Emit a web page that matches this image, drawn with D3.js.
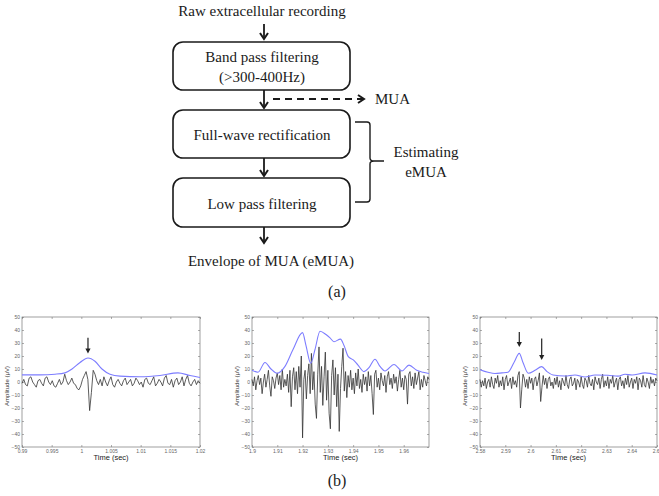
<!DOCTYPE html>
<html>
<head>
<meta charset="utf-8">
<script src="https://cdn.jsdelivr.net/npm/d3@7"></script>
<style>
  body { margin: 0; background: #fff; }
  svg { display: block; }
</style>
</head>
<body>
<script>
// ---- flowchart text ----
var topLabel = "Raw extracellular recording";
var stepLines = [
  ["Band pass filtering", "(>300-400Hz)"],
  ["Full-wave rectification"],
  ["Low pass filtering"]
];
var bottomLabel = "Envelope of MUA (eMUA)";
var sideLabel = "MUA";
var braceLines = ["Estimating", "eMUA"];

// ---- signal panels ----
var yTicks = [-50, -40, -30, -20, -10, 0, 10, 20, 30, 40, 50];

var p1Ticks = [0.99, 0.995, 1, 1.005, 1.01, 1.015, 1.02];
var p1Labels = ["0.99", "0.995", "1", "1.005", "1.01", "1.015", "1.02"];
var p2Ticks = [1.9, 1.91, 1.92, 1.93, 1.94, 1.95, 1.96];
var p2Labels = ["1.9", "1.91", "1.92", "1.93", "1.94", "1.95", "1.96"];
var p3Ticks = [2.58, 2.59, 2.6, 2.61, 2.62, 2.63, 2.64, 2.65];
var p3Labels = ["2.58", "2.59", "2.6", "2.61", "2.62", "2.63", "2.64", "2.65"];

// raw traces: start time, sample step, amplitudes (uV)
var raw1Start = 0.99, raw1Step = 0.0003;
var raw1 = [-1, 2, -2, -3, 3, 4, 0, -2, -4, 1,
  2, -1, -3, 3, 4, 0, -2, 1, -3, -4,
  -1, 2, -2, 0, 6, 1, -2, 0, 3, -1,
  -2, -5, -6, -3, 2, 5, 8, 2, -22, -8,
  9, 6, 1, -2, 2, -3, 4, 0, -3, 1,
  4, -2, -4, 0, 2, -1, -3, 1, 3, -2,
  0, 2, -3, -1, 3, 1, -2, 0, -4, 2,
  3, -1, -2, 1, 4, -3, -1, 2, 0, -3,
  3, 5, -1, -2, 2, -4, 1, 3, -2, 0,
  4, -3, 2, 5, -1, -3, 0, 2, -2, 1, -1];

var raw2Start = 1.9, raw2Step = 0.0005;
var raw2 = [2, -3, 4, -6, 1, 5, -2, 3, -9, 0,
  6, -4, 2, 9, -3, -11, 4, 1, -5, 3,
  7, -2, 5, -6, 10, -4, 2, -3, 6, -8,
  9, -19, 4, 11, -6, 8, -9, 12, -4, 20,
  -43, 2, 9, -13, 5, 14, -9, 22, -6, 8,
  -17, -28, 6, 27, -8, 12, -18, 4, 23, -14,
  9, -24, -36, 5, 17, -10, 11, -19, 6, -38,
  -5, 12, 26, -7, 8, -12, 5, -4, 9, -6,
  3, -9, 7, -3, 10, -5, 2, -8, 6, -2,
  4, -7, 8, -3, 5, -9, -25, 6, 9, -4,
  3, -6, 7, 1, -3, 5, -8, 4, 8, -2,
  3, -5, 6, -1, 4, -7, 2, 9, -4, 3,
  -6, 5, 2, -17, 6, 8, -3, 4, -5, 7,
  -2, 3, 8, -6, 2, -4, 5, 1, -3, 4, 2];

var raw3Start = 2.58, raw3Step = 0.0005;
var raw3 = [2, -4, 1, -3, 3, -5, 0, 2, -4, 4,
  -2, -5, 3, -1, 5, -4, 1, -3, 4, -6,
  2, 5, -3, 0, 3, -5, 4, -2, 1, -4,
  5, 8, -20, -6, 6, 3, -4, 2, -5, 4,
  -1, 3, -6, 2, 4, -3, 1, 7, -15, -4,
  5, -2, 3, -5, 2, 4, -3, 0, -5, 3,
  -2, 4, -4, 1, -6, 3, 0, -3, 5, -2,
  -5, 2, 4, -3, -1, 3, -6, 2, 0, -4,
  4, -2, -5, 3, 1, -4, 5, -1, -3, 2,
  -6, 4, 0, -2, 3, -5, 2, 6, -4, 1,
  -3, 4, -5, 2, -1, 5, -4, 0, 3, -6,
  2, 4, -3, 1, -5, 3, -2, 5, -4, 0,
  3, -5, 2, -1, 4, -6, 3, 1, -4, 5,
  -2, -4, 3, 0, -5, 4, -1, 2, -3, 3, 1];

// envelopes (eMUA)
var env1T = [0.99, 0.99303, 0.99556, 0.99725, 0.99843, 0.99978, 1.00112, 1.0023, 1.00348,
  1.00483, 1.00652, 1.00989, 1.01326, 1.01629, 1.01831, 1.02];
var env1V = [5.5, 5.5, 6, 7, 10, 15, 18.5, 16, 10, 6, 4.5, 4, 5, 7, 5, 3.5];

var env2T = [1.9, 1.90237, 1.90514, 1.90751, 1.90989, 1.91305, 1.91622, 1.91997, 1.92136,
  1.92322, 1.92492, 1.92689, 1.92927, 1.93085, 1.93243, 1.935, 1.93639, 1.93809, 1.94006,
  1.94192, 1.9443, 1.94627, 1.94865, 1.95062, 1.9526, 1.95616, 1.95932, 1.96209, 1.96514,
  1.96763, 1.97];
var env2V = [9, 7.5, 15, 10, 6.7, 12, 25, 38, 28, 14.4, 25, 39, 36.5, 34, 31, 33, 28, 19.5,
  17, 13, 8, 11, 17.5, 12, 8.5, 13.5, 8.5, 13, 9, 7.5, 6.5];

var env3T = [2.58, 2.58316, 2.58593, 2.5887, 2.59107, 2.59344, 2.59554, 2.597, 2.5991,
  2.60175, 2.6044, 2.6065, 2.60887, 2.61362, 2.61757, 2.62153, 2.62548, 2.63062, 2.63458,
  2.63735, 2.64012, 2.64526, 2.65];
var env3V = [9.5, 7.5, 6.5, 7, 7.5, 15, 22, 15, 6.7, 9, 11.8, 8, 5.4, 4.6, 5.4, 3.8, 5.4,
  5.2, 4.5, 6, 5.4, 7, 5.4];

// spike markers: time, top and tip amplitude
var arrows1 = [[1.00112, 34, 22]];
var arrows2 = [];
var arrows3 = [[2.59554, 38.5, 27], [2.6044, 33.5, 17]];

var W = 659, H = 496;
var svg = d3.select("body").append("svg").attr("width", W).attr("height", H);

var serif = "'Liberation Serif', 'Times New Roman', serif";
var sans = "'Liberation Sans', Arial, sans-serif";
var ink = "#1a1a1a";

// ---------- (a) flowchart ----------
var fc = svg.append("g");
var cx = 262;
var boxes = [{ y: 42, h: 48 }, { y: 110, h: 48 }, { y: 178, h: 49 }];
var boxLeft = 173, boxW = 177;

fc.append("text").attr("x", cx).attr("y", 16).attr("text-anchor", "middle")
  .style("font-family", serif).style("font-size", "15px").attr("fill", ink)
  .text(topLabel);

boxes.forEach(function(b, i) {
  fc.append("rect")
    .attr("x", boxLeft).attr("y", b.y).attr("width", boxW).attr("height", b.h)
    .attr("rx", 10).attr("ry", 10)
    .attr("fill", "none").attr("stroke", ink).attr("stroke-width", 1.6);
  var lines = stepLines[i];
  var mid = b.y + b.h / 2;
  lines.forEach(function(l, j) {
    fc.append("text")
      .attr("x", cx).attr("y", mid + 6 + (j - (lines.length - 1) / 2) * 20)
      .attr("text-anchor", "middle")
      .style("font-family", serif).style("font-size", "15px").attr("fill", ink)
      .text(l);
  });
});

fc.append("text").attr("x", cx + 9).attr("y", 266).attr("text-anchor", "middle")
  .style("font-family", serif).style("font-size", "15px").attr("fill", ink)
  .text(bottomLabel);

// down arrows
function downArrow(x, y0, y1) {
  fc.append("line").attr("x1", x).attr("x2", x).attr("y1", y0).attr("y2", y1)
    .attr("stroke", ink).attr("stroke-width", 1.8);
  fc.append("path").attr("d", "M" + (x - 4) + "," + (y1 - 6) + "L" + x + "," + y1 + "L" + (x + 4) + "," + (y1 - 6))
    .attr("fill", "none").attr("stroke", ink).attr("stroke-width", 2);
}
downArrow(264, 24, 39);
downArrow(264, 90, 108);
downArrow(264, 158, 176);
downArrow(264, 227, 243);

// dashed arrow to MUA
fc.append("line").attr("x1", 273).attr("x2", 363).attr("y1", 99).attr("y2", 99)
  .attr("stroke", ink).attr("stroke-width", 2).attr("stroke-dasharray", "7,5");
fc.append("path").attr("d", "M358,95L364,99L358,103")
  .attr("fill", "none").attr("stroke", ink).attr("stroke-width", 2);
fc.append("text").attr("x", 375).attr("y", 104)
  .style("font-family", serif).style("font-size", "15px").attr("fill", ink)
  .text(sideLabel);

// brace
fc.append("path")
  .attr("d", "M355,122L367,122Q370,122 370,125L370,158Q370,161 374,161L384,161" +
    "M374,161Q370,161 370,164L370,199Q370,202 367,202L355,202")
  .attr("fill", "none").attr("stroke", ink).attr("stroke-width", 1.4);
braceLines.forEach(function(l, j) {
  fc.append("text").attr("x", 426).attr("y", 157 + j * 20).attr("text-anchor", "middle")
    .style("font-family", serif).style("font-size", "15px").attr("fill", ink)
    .text(l);
});

fc.append("text").attr("x", 337).attr("y", 297).attr("text-anchor", "middle")
  .style("font-family", serif).style("font-size", "16px").attr("fill", ink)
  .text("(a)");
svg.append("text").attr("x", 337).attr("y", 486).attr("text-anchor", "middle")
  .style("font-family", serif).style("font-size", "16px").attr("fill", ink)
  .text("(b)");

// ---------- (b) signal panels ----------
var plotTop = 317, plotBottom = 447;

function drawPanel(opt) {
  var x = d3.scaleLinear().domain(opt.domain).range([opt.left, opt.right]);
  var y = d3.scaleLinear().domain([-50, 50]).range([plotBottom, plotTop]);
  var g = svg.append("g");

  g.append("rect").attr("x", opt.left).attr("y", plotTop)
    .attr("width", opt.right - opt.left).attr("height", plotBottom - plotTop)
    .attr("fill", "#fff").attr("stroke", "#777").attr("stroke-width", 0.7);

  var xAxis = d3.axisBottom(x).tickValues(opt.ticks).tickSize(-2).tickPadding(2)
    .tickFormat(function(d, i) { return opt.labels[i]; });
  g.append("g").attr("transform", "translate(0," + plotBottom + ")").call(xAxis);
  var yAxis = d3.axisLeft(y).tickValues(yTicks).tickSize(-2).tickPadding(2);
  g.append("g").attr("transform", "translate(" + opt.left + ",0)").call(yAxis);
  g.append("g").attr("transform", "translate(0," + plotTop + ")")
    .call(d3.axisTop(x).tickValues(opt.ticks).tickSize(-2).tickFormat(""));
  g.append("g").attr("transform", "translate(" + opt.right + ",0)")
    .call(d3.axisRight(y).tickValues(yTicks).tickSize(-2).tickFormat(""));

  g.selectAll(".domain").remove();
  g.selectAll(".tick line").attr("stroke", "#777").attr("stroke-width", 0.6);
  g.selectAll(".tick text").attr("fill", "#666")
    .style("font-family", sans).style("font-size", "5px");

  // raw trace
  var raw = opt.raw.map(function(v, i) { return [opt.rawStart + i * opt.rawStep, v]; });
  g.append("path").datum(raw)
    .attr("d", d3.line().x(function(d) { return x(d[0]); }).y(function(d) { return y(d[1]); }))
    .attr("fill", "none").attr("stroke", "#333").attr("stroke-width", 0.8);

  // envelope
  var env = opt.envT.map(function(t, i) { return [t, opt.envV[i]]; });
  g.append("path").datum(env)
    .attr("d", d3.line().curve(d3.curveMonotoneX)
      .x(function(d) { return x(d[0]); }).y(function(d) { return y(d[1]); }))
    .attr("fill", "none").attr("stroke", "#7d7dff").attr("stroke-width", 1.1);

  // spike arrows
  opt.arrows.forEach(function(a) {
    var ax = x(a[0]), y0 = y(a[1]), y1 = y(a[2]);
    g.append("line").attr("x1", ax).attr("x2", ax).attr("y1", y0).attr("y2", y1 - 4)
      .attr("stroke", "#222").attr("stroke-width", 1.2);
    g.append("path").attr("d", "M" + (ax - 2.6) + "," + (y1 - 5) + "L" + ax + "," + y1 + "L" + (ax + 2.6) + "," + (y1 - 5) + "Z")
      .attr("fill", "#222");
  });

  // axis labels
  g.append("text").attr("x", (opt.left + opt.right) / 2).attr("y", 460)
    .attr("text-anchor", "middle").attr("fill", "#222")
    .style("font-family", sans).style("font-size", "7.5px")
    .text("Time (sec)");
  g.append("text")
    .attr("transform", "translate(" + opt.ylab + ",386) rotate(-90)")
    .attr("text-anchor", "middle").attr("fill", "#333")
    .style("font-family", sans).style("font-size", "6px")
    .text("Amplitude (\u03bcV)");
}

drawPanel({ left: 22, right: 200, domain: [0.99, 1.02], ticks: p1Ticks, labels: p1Labels,
  raw: raw1, rawStart: raw1Start, rawStep: raw1Step, envT: env1T, envV: env1V,
  arrows: arrows1, ylab: 9 });
drawPanel({ left: 252, right: 429, domain: [1.9, 1.97], ticks: p2Ticks, labels: p2Labels,
  raw: raw2, rawStart: raw2Start, rawStep: raw2Step, envT: env2T, envV: env2V,
  arrows: arrows2, ylab: 239 });
drawPanel({ left: 480, right: 657, domain: [2.58, 2.65], ticks: p3Ticks, labels: p3Labels,
  raw: raw3, rawStart: raw3Start, rawStep: raw3Step, envT: env3T, envV: env3V,
  arrows: arrows3, ylab: 467 });
</script>
</body>
</html>
